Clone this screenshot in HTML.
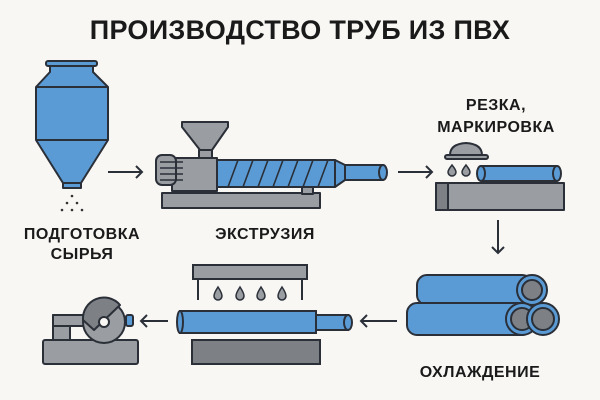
<!DOCTYPE html>
<html><head><meta charset="utf-8"><style>
body{margin:0;background:#f8f7f4;}
svg{display:block}
text{font-family:"Liberation Sans","DejaVu Sans",sans-serif;font-weight:bold;fill:#1a1a1a;text-anchor:middle}
</style></head><body>
<svg width="600" height="400" viewBox="0 0 600 400" xmlns="http://www.w3.org/2000/svg">
<rect width="600" height="400" fill="#f8f7f4"/>
<text x="300" y="39" font-size="27" letter-spacing="0.3">ПРОИЗВОДСТВО ТРУБ ИЗ ПВХ</text>
<g stroke="#2a2f38" stroke-width="2" stroke-linejoin="round">
<rect x="46" y="61" width="51" height="5" rx="2" fill="#5b9bd5"/>
<path d="M50 66 L93 66 L93 72 L108 87 L108 140 L81 183 L63 183 L36 140 L36 87 L50 72 Z" fill="#5b9bd5"/>
<line x1="36" y1="87" x2="108" y2="87"/><line x1="36" y1="140" x2="108" y2="140"/>
<rect x="63" y="183" width="18" height="5" fill="#5b9bd5"/>
</g>
<g fill="#333"><circle cx="72" cy="196" r="1.3"/><circle cx="67" cy="203" r="1.3"/><circle cx="77" cy="203" r="1.3"/><circle cx="62" cy="210" r="1.3"/><circle cx="72" cy="210" r="1.3"/><circle cx="82" cy="210" r="1.3"/></g>
<text x="82" y="239" font-size="16" letter-spacing="0.5">ПОДГОТОВКА</text>
<text x="82" y="259" font-size="16" letter-spacing="0.5">СЫРЬЯ</text>
<g stroke="#2a2f38" stroke-width="2" fill="none">
<path d="M108 172 H142 M136 166 L142 172 L136 178"/>
<path d="M398 172 H432 M426 166 L432 172 L426 178"/>
<path d="M498 220 V253 M492 247 L498 253 L504 247"/>
<path d="M397 321 H361 M367 315 L361 321 L367 327"/>
<path d="M168 321 H141 M147 315 L141 321 L147 327"/>
</g>
<g stroke="#2a2f38" stroke-width="2" stroke-linejoin="round">
<rect x="162" y="193" width="158" height="15" fill="#9a9da1"/>
<rect x="302" y="186" width="11" height="8" fill="#9a9da1"/>
<path d="M182 122 H228 V127 L212 150 H200 L182 127 Z" fill="#9a9da1"/>
<rect x="199" y="150" width="13" height="10" fill="#9a9da1"/>
<rect x="172" y="158" width="45" height="33" fill="#9a9da1"/>
<rect x="156" y="155" width="20" height="30" rx="6" fill="#9a9da1"/>
<path d="M160 162 H183 M160 168 H183 M160 174 H183 M160 180 H183" stroke-width="1.5"/>
<rect x="217" y="160" width="118" height="27" fill="#5b9bd5"/>
<path d="M228 187 L238 160 M243 187 L253 160 M258 187 L268 160 M273 187 L283 160 M288 187 L298 160 M303 187 L313 160 M318 187 L328 160" stroke-width="1.6" fill="none"/>
<path d="M335 160 L345 165 V180 L335 187 Z" fill="#5b9bd5"/>
<rect x="345" y="165" width="38" height="15" fill="#5b9bd5"/>
<ellipse cx="383" cy="172.5" rx="4" ry="7.5" fill="#5b9bd5"/>
</g>
<text x="265" y="239" font-size="16" letter-spacing="0.5">ЭКСТРУЗИЯ</text>
<text x="496" y="110" font-size="16" letter-spacing="0.5">РЕЗКА,</text>
<text x="496" y="132" font-size="16" letter-spacing="0.5">МАРКИРОВКА</text>
<g stroke="#2a2f38" stroke-width="2" stroke-linejoin="round">
<path d="M450 155 Q450 144 466 143 Q482 144 482 155 Z" fill="#9a9da1"/>
<rect x="445" y="155" width="43" height="4" rx="2" fill="#9a9da1"/>
<rect x="436" y="183" width="128" height="27" fill="#9a9da1"/>
<rect x="436" y="183" width="12" height="27" fill="#7d8085"/>
<rect x="481" y="166" width="76" height="15" fill="#5b9bd5"/>
<ellipse cx="557" cy="173.5" rx="4" ry="7.5" fill="#5b9bd5"/>
<ellipse cx="481" cy="173.5" rx="4" ry="7.5" fill="#5b9bd5"/>
</g>
<g fill="#9a9da1" stroke="#2a2f38" stroke-width="1.5">
<path d="M452 165 Q456 170 456 172 A4 4 0 0 1 448 172 Q448 170 452 165Z"/>
<path d="M466 165 Q470 170 470 172 A4 4 0 0 1 462 172 Q462 170 466 165Z"/>
</g>
<g stroke="#2a2f38" stroke-width="2">
<rect x="417" y="275" width="115" height="30" rx="10" fill="#5b9bd5"/>
<circle cx="532" cy="290" r="15" fill="#5b9bd5"/><circle cx="532" cy="290" r="10" fill="#7d8085"/>
<rect x="407" y="303" width="125" height="32" rx="10" fill="#5b9bd5"/>
<circle cx="522" cy="319" r="16" fill="#5b9bd5"/><circle cx="522" cy="319" r="11" fill="#7d8085"/>
<circle cx="543" cy="319" r="16" fill="#5b9bd5"/><circle cx="543" cy="319" r="11" fill="#7d8085"/>
</g>
<text x="480" y="377" font-size="16" letter-spacing="0.5">ОХЛАЖДЕНИЕ</text>
<g stroke="#2a2f38" stroke-width="2">
<rect x="193" y="265" width="114" height="14" fill="#9a9da1"/>
<path d="M198 279 V300 M302 279 V300" fill="none"/>
<rect x="192" y="340" width="128" height="24" fill="#7d8085"/>
<rect x="310" y="315" width="38" height="15" fill="#5b9bd5"/>
<ellipse cx="348" cy="322.5" rx="4" ry="7.5" fill="#5b9bd5"/>
<rect x="180" y="311" width="136" height="22" fill="#5b9bd5"/>
<ellipse cx="180" cy="322" rx="3" ry="11" fill="#5b9bd5"/>
</g>
<g fill="#9a9da1" stroke="#2a2f38" stroke-width="1.5">
<path d="M218 287 Q222 293 222 296 A4 4 0 0 1 214 296 Q214 293 218 287Z"/>
<path d="M240 287 Q244 293 244 296 A4 4 0 0 1 236 296 Q236 293 240 287Z"/>
<path d="M261 287 Q265 293 265 296 A4 4 0 0 1 257 296 Q257 293 261 287Z"/>
<path d="M282 287 Q286 293 286 296 A4 4 0 0 1 278 296 Q278 293 282 287Z"/>
</g>
<g stroke="#2a2f38" stroke-width="2" stroke-linejoin="round">
<rect x="43" y="340" width="95" height="24" rx="2" fill="#9a9da1"/>
<rect x="53" y="315" width="17" height="25" fill="#9a9da1"/>
<rect x="53" y="315" width="38" height="11" fill="#9a9da1"/>
<rect x="126" y="315" width="7" height="11" rx="2" fill="#5b9bd5"/>
<circle cx="104" cy="322" r="21" fill="#9a9da1"/>
<path d="M83 320 A21 21 0 0 1 120 305 L94 330 Z" fill="#7d8085"/>
<circle cx="104" cy="322" r="5" fill="#f8f7f4"/>
</g>
</svg>
</body></html>
